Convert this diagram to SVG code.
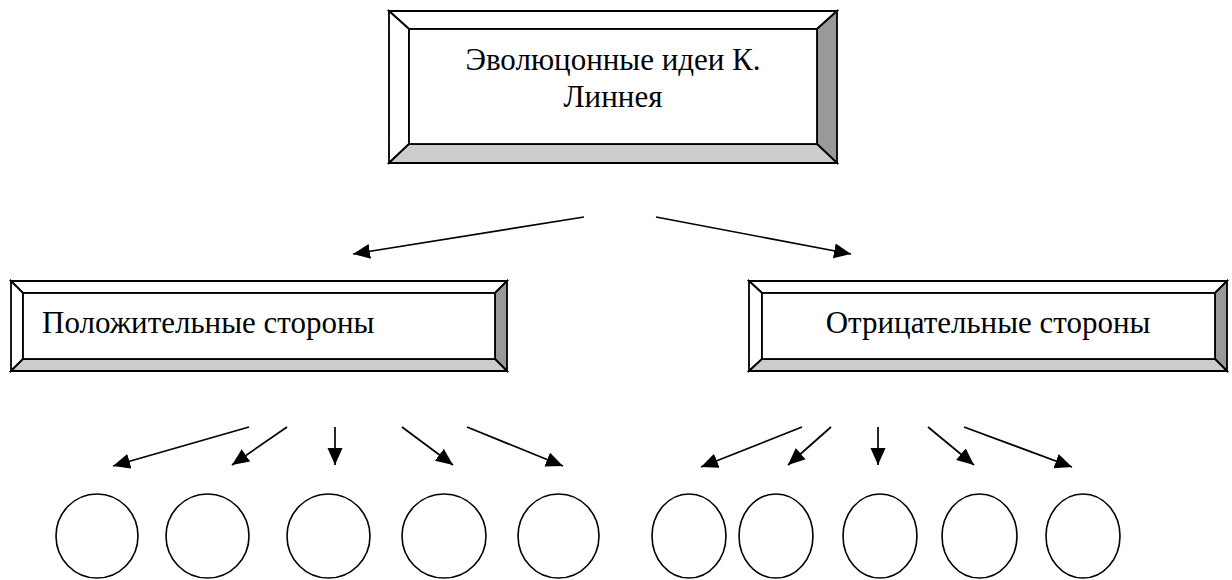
<svg xmlns="http://www.w3.org/2000/svg" width="1232" height="580" viewBox="0 0 1232 580">
  <style>
    .edge { stroke: #000; stroke-width: 1.7; fill: none; }
    .frame { stroke: #000; stroke-width: 1.8; stroke-linejoin: miter; }
    .lit { fill: #ffffff; }
    .shade { fill: #999999; }
    .soft { fill: #cccccc; }
    .face { fill: #ffffff; stroke: #000; stroke-width: 1.8; }
    .leaf { fill: #fff; stroke: #000; stroke-width: 1.6; }
    text.label { font-family: Liberation Serif, serif !important; font-size: 31px; fill: #000; }
  </style>
  <defs>
    <marker id="head" markerUnits="userSpaceOnUse" markerWidth="20" markerHeight="16" refX="17" refY="7.5" orient="auto">
      <path d="M0,0 L17,7.5 L0,15 Z" fill="#000"/>
    </marker>
  </defs>
  <rect width="1232" height="580" fill="#fff"/>

  <!-- root: bevelled title box -->
  <g id="root">
    <polygon class="lit frame" points="389,11 837,11 817,29 409,29"/>
    <polygon class="lit frame" points="389,11 409,29 409,144 389,163"/>
    <polygon class="shade frame" points="837,11 837,163 817,144 817,29"/>
    <polygon class="soft frame" points="389,163 409,144 817,144 837,163"/>
    <rect class="face" x="409" y="29" width="408" height="115"/>
    <text class="label" style="font-family: Liberation Serif, serif" x="613" y="70" text-anchor="middle">Эволюцонные идеи К.</text>
    <text class="label" style="font-family: Liberation Serif, serif" x="613" y="107" text-anchor="middle">Линнея</text>
  </g>

  <!-- positive side box -->
  <g id="positive">
    <polygon class="lit frame" points="11,281 507,281 495,293 23,293"/>
    <polygon class="lit frame" points="11,281 23,293 23,359 11,371"/>
    <polygon class="shade frame" points="507,281 507,371 495,359 495,293"/>
    <polygon class="soft frame" points="11,371 23,359 495,359 507,371"/>
    <rect class="face" x="23" y="293" width="472" height="66"/>
    <text class="label" style="font-family: Liberation Serif, serif" x="42" y="333">Положительные стороны</text>
  </g>

  <!-- negative side box -->
  <g id="negative">
    <polygon class="lit frame" points="749,281 1227,281 1215,293 762,293"/>
    <polygon class="lit frame" points="749,281 762,293 762,359 749,371"/>
    <polygon class="shade frame" points="1227,281 1227,371 1215,359 1215,293"/>
    <polygon class="soft frame" points="749,371 762,359 1215,359 1227,371"/>
    <rect class="face" x="762" y="293" width="453" height="66"/>
    <text class="label" style="font-family: Liberation Serif, serif" x="988" y="333" text-anchor="middle">Отрицательные стороны</text>
  </g>

  <!-- empty answer circles -->
  <g id="pos-1"><ellipse class="leaf" cx="97" cy="536" rx="41" ry="42"/></g>
  <g id="pos-2"><ellipse class="leaf" cx="207.5" cy="536" rx="41.5" ry="42"/></g>
  <g id="pos-3"><ellipse class="leaf" cx="328.5" cy="536" rx="41.5" ry="42"/></g>
  <g id="pos-4"><ellipse class="leaf" cx="444" cy="536" rx="42" ry="42"/></g>
  <g id="pos-5"><ellipse class="leaf" cx="558.5" cy="536" rx="40.5" ry="42"/></g>
  <g id="neg-1"><ellipse class="leaf" cx="689" cy="536" rx="37" ry="42"/></g>
  <g id="neg-2"><ellipse class="leaf" cx="776" cy="536" rx="37" ry="42"/></g>
  <g id="neg-3"><ellipse class="leaf" cx="880" cy="536" rx="37" ry="42"/></g>
  <g id="neg-4"><ellipse class="leaf" cx="979.5" cy="536" rx="37.5" ry="42"/></g>
  <g id="neg-5"><ellipse class="leaf" cx="1083" cy="536" rx="37" ry="42"/></g>

  <!-- connectors -->
  <g id="connectors" class="edge" marker-end="url(#head)">
    <line x1="584" y1="217" x2="353" y2="254"/>
    <line x1="656" y1="217" x2="851" y2="254"/>

    <line x1="249" y1="427" x2="113" y2="466"/>
    <line x1="287" y1="427" x2="232" y2="465"/>
    <line x1="335" y1="427" x2="335" y2="465"/>
    <line x1="402" y1="427" x2="453" y2="465"/>
    <line x1="467" y1="427" x2="563" y2="466"/>

    <line x1="802" y1="427" x2="701" y2="467"/>
    <line x1="831" y1="427" x2="788" y2="465"/>
    <line x1="878" y1="427" x2="878" y2="465"/>
    <line x1="928" y1="427" x2="974" y2="465"/>
    <line x1="964" y1="427" x2="1072" y2="467"/>
  </g>
</svg>
